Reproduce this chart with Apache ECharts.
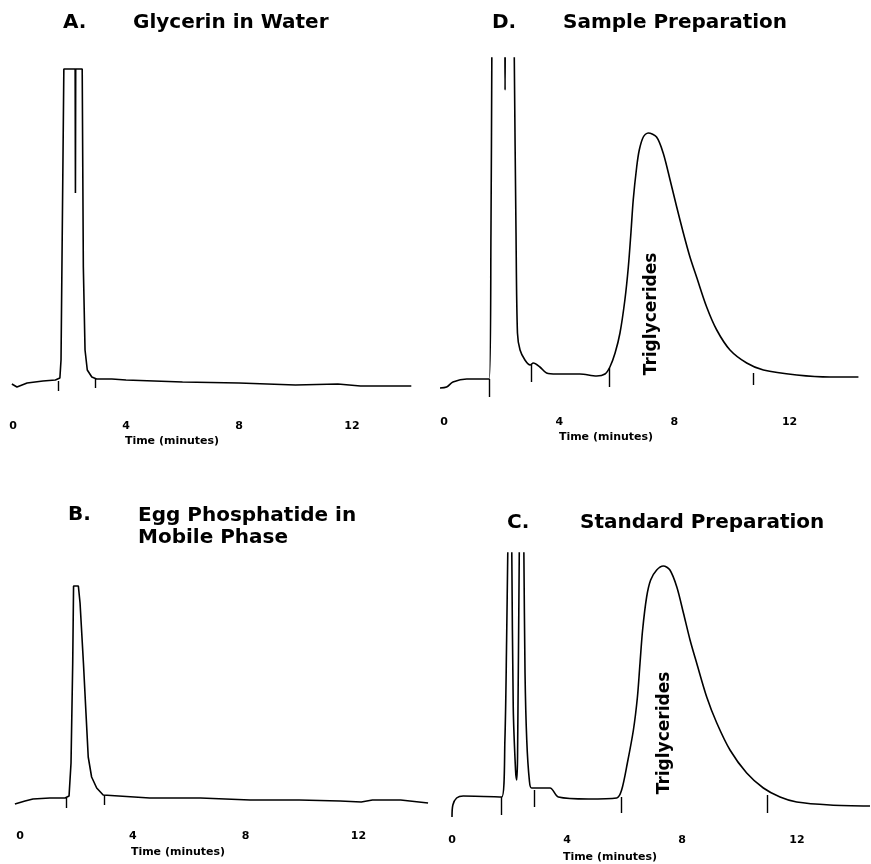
<!DOCTYPE html>
<html>
<head>
<meta charset="utf-8">
<script src="https://cdn.jsdelivr.net/npm/echarts@6.0.0/dist/echarts.min.js"></script>
<style>
  html, body { margin: 0; padding: 0; background: #fff; }
  #main { width: 871px; height: 864px; }
</style>
</head>
<body>
<div id="main"></div>
<script>
// detector trace, time in minutes vs response (arbitrary units)
const timeA = [-0.04, 0.14, 0.5, 1.06, 1.5, 1.66, 1.70, 1.80, 2.20, 2.21, 2.22, 2.45, 2.49, 2.55, 2.63, 2.79, 2.96, 3.5, 4, 6, 8, 10, 11.5, 12.3, 14.1]
const respA = [16, 13, 17, 19, 20, 22, 40, 331, 331, 207, 331, 331, 133, 50, 30, 23, 21, 21, 20, 18, 17, 15, 16, 14, 14]

const timeB = [-0.18, 0.18, 0.46, 1.06, 1.6, 1.74, 1.81, 1.87, 1.90, 2.07, 2.13, 2.25, 2.34, 2.42, 2.54, 2.72, 2.95, 4.6, 6.4, 8.16, 9.9, 11.35, 12.1, 12.5, 13.5, 14.47]
const respB = [16, 19, 21, 22, 22, 24, 57, 157, 234, 234, 217, 157, 107, 63, 43, 32, 25, 22, 22, 20, 20, 19, 18, 20, 20, 17]

const timeD = [-0.14, 0.09, 0.31, 0.79, 1.57, 1.63, 1.66, 1.68, 2.10, 2.12, 2.14, 2.42, 2.44, 2.5, 2.55, 2.64, 2.81, 2.99, 3.1, 3.33, 3.56, 3.91, 4.72, 5.3, 5.59, 5.76, 5.94, 6.11, 6.28, 6.4, 6.49, 6.57, 6.69, 6.78, 6.92, 7.09, 7.38, 7.61, 7.85, 8.08, 8.31, 8.54, 8.77, 9.12, 9.47, 9.93, 10.51, 11.09, 12.25, 13.4, 14.39]
const respD = [12, 13, 18, 21, 21, 167, 342, 420, 420, 310, 420, 420, 342, 167, 67, 50, 40, 35, 37, 33, 27, 26, 26, 24, 26, 33, 47, 67, 100, 133, 167, 200, 233, 250, 263, 267, 263, 247, 220, 193, 167, 143, 123, 93, 70, 50, 37, 30, 25, 23, 23]

const timeC = [0, 0.03, 0.16, 0.39, 1.73, 1.84, 1.9, 1.94, 1.96, 2.06, 2.08, 2.13, 2.21, 2.25, 2.28, 2.34, 2.36, 2.48, 2.5, 2.54, 2.6, 2.69, 2.77, 3.41, 3.7, 4.74, 5.73, 5.9, 6.1, 6.31, 6.45, 6.54, 6.63, 6.77, 6.91, 7.12, 7.35, 7.58, 7.82, 8.05, 8.28, 8.51, 8.86, 9.21, 9.67, 10.25, 10.83, 11.41, 11.99, 13.15, 14.54]
const respC = [3, 15, 22, 24, 23, 80, 180, 267, 300, 300, 267, 113, 50, 40, 63, 267, 300, 300, 267, 147, 80, 40, 32, 32, 23, 21, 22, 30, 57, 90, 123, 157, 190, 223, 240, 250, 254, 250, 233, 207, 180, 157, 123, 97, 70, 47, 32, 23, 18, 15, 14]

// integrator event marks (time, upper and lower response)
const markTimeA = [1.6, 2.9]
const markTopA = [19, 21]
const markBotA = [9, 12]
const markTimeB = [1.63, 2.98]
const markTopB = [22, 25]
const markBotB = [12, 15]
const markTimeD = [1.56, 3.02, 5.73, 10.73]
const markTopD = [21, 35, 32, 27]
const markBotD = [3, 18, 13, 15]
const markTimeC = [1.73, 2.85, 5.88, 10.96]
const markTopC = [23, 30, 23, 25]
const markBotC = [5, 13, 7, 7]

const tickLabels = [0, 4, 8, 12]

const FONT = 'DejaVu Sans'

const panels = [
  { time: timeA, resp: respA, mt: markTimeA, mtop: markTopA, mbot: markBotA, smooth: false,
    grid: { left: 1.7, top: 60, width: 420.9, height: 340 }, xmax: 14.5, ymax: 340, margin: 21 },
  { time: timeB, resp: respB, mt: markTimeB, mtop: markTopB, mbot: markBotB, smooth: false,
    grid: { left: 8.7, top: 560, width: 420.2, height: 260 }, xmax: 14.5, ymax: 260, margin: 11 },
  { time: timeD, resp: respD, mt: markTimeD, mtop: markTopD, mbot: markBotD, smooth: 0.3,
    grid: { left: 432.5, top: 58, width: 429.1, height: 342 }, xmax: 14.5, ymax: 342, margin: 17 },
  { time: timeC, resp: respC, mt: markTimeC, mtop: markTopC, mbot: markBotC, smooth: 0.3,
    grid: { left: 440.5, top: 553, width: 429.8, height: 267 }, xmax: 14.55, ymax: 267, margin: 15 },
]

const grid = []
const xAxis = []
const yAxis = []
const series = []
panels.forEach((p, i) => {
  grid.push(p.grid)
  xAxis.push({
    gridIndex: i,
    type: 'value',
    min: -0.4,
    max: p.xmax,
    axisLine: { show: false },
    axisTick: { show: false },
    splitLine: { show: false },
    axisLabel: {
      customValues: tickLabels,
      margin: p.margin,
      color: '#000',
      fontSize: 11,
      fontWeight: 'bold',
      fontFamily: FONT,
    },
  })
  yAxis.push({ gridIndex: i, type: 'value', min: 0, max: p.ymax, show: false })
  series.push({
    type: 'line',
    xAxisIndex: i,
    yAxisIndex: i,
    data: p.time.map((t, k) => [t, p.resp[k]]),
    symbol: 'none',
    clip: true,
    smooth: p.smooth,
    lineStyle: { color: '#000', width: 1.6 },
    markLine: {
      silent: true,
      symbol: ['none', 'none'],
      label: { show: false },
      lineStyle: { color: '#000', width: 1.4, type: 'solid' },
      data: p.mt.map((t, k) => [{ coord: [t, p.mtop[k]] }, { coord: [t, p.mbot[k]] }]),
    },
  })
})

function txt(text, x, y, size, extra) {
  return {
    type: 'text',
    x, y,
    silent: true,
    ...extra,
    style: {
      text,
      fill: '#000',
      fontSize: size,
      fontWeight: 'bold',
      fontFamily: FONT,
      align: 'left',
      verticalAlign: 'middle',
      ...(extra && extra.style),
    },
  }
}

const graphic = [
  txt('A.', 63, 23, 20),
  txt('Glycerin in Water', 133, 23, 20),
  txt('D.', 492, 23, 20),
  txt('Sample Preparation', 563, 23, 20),
  txt('B.', 68, 515, 20),
  txt('Egg Phosphatide in', 138, 516, 20),
  txt('Mobile Phase', 138, 538, 20),
  txt('C.', 507, 523, 20),
  txt('Standard Preparation', 580, 523, 20),
  txt('Time (minutes)', 172, 441, 11, { style: { align: 'center' } }),
  txt('Time (minutes)', 178, 852, 11, { style: { align: 'center' } }),
  txt('Time (minutes)', 606, 437, 11, { style: { align: 'center' } }),
  txt('Time (minutes)', 610, 857, 11, { style: { align: 'center' } }),
  txt('Triglycerides', 652, 314, 17, { rotation: Math.PI / 2, style: { align: 'center' } }),
  txt('Triglycerides', 665, 733, 17, { rotation: Math.PI / 2, style: { align: 'center' } }),
]

const chart = echarts.init(document.getElementById('main'))
chart.setOption({
  animation: false,
  backgroundColor: '#fff',
  grid,
  xAxis,
  yAxis,
  series,
  graphic,
})
</script>
</body>
</html>
